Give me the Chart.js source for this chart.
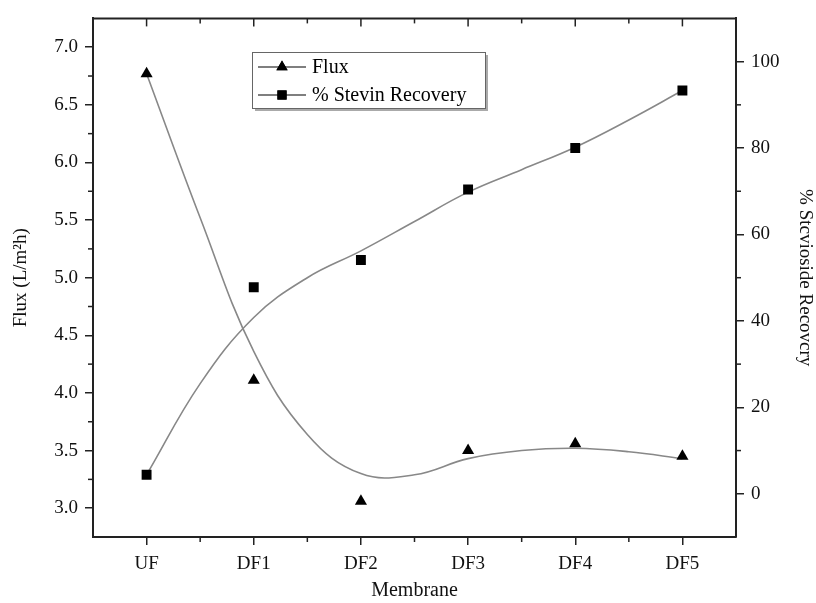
<!DOCTYPE html>
<html>
<head>
<meta charset="utf-8">
<script src="https://cdn.jsdelivr.net/npm/chart.js@4.4.1/dist/chart.umd.min.js"></script>
<style>
    html, body { margin: 0; background: #fff; }
    #wrap { width: 816px; height: 603px; }
</style>
</head>
<body>
<div id="wrap"><canvas id="chart" width="816" height="603"></canvas></div>
<script>
const membranes = ["UF", "DF1", "DF2", "DF3", "DF4", "DF5"];
const membraneIndex = [0, 1, 2, 3, 4, 5];
const fluxValues = [6.77, 4.11, 3.06, 3.50, 3.56, 3.45];
const recoveryValues = [4.4, 47.8, 54.1, 70.4, 80.0, 93.3];

// fitted curves
const fitX = [0, 0.5, 1, 1.5, 2, 2.5, 3, 3.5, 4, 4.5, 5];
const fluxFit = [6.77, 5.52, 4.36, 3.64, 3.30, 3.29, 3.43, 3.50, 3.52, 3.49, 3.43];
const recoveryFit = [4.4, 25.5, 40.8, 50.0, 56.2, 63.0, 69.8, 75.0, 80.2, 86.5, 93.3];

const fluxTicks = [3.0, 3.5, 4.0, 4.5, 5.0, 5.5, 6.0, 6.5, 7.0];
const fluxMinor = [3.25, 3.75, 4.25, 4.75, 5.25, 5.75, 6.25, 6.75];
const recoveryTicks = [0, 20, 40, 60, 80, 100];
const recoveryMinor = [10, 30, 50, 70, 90];
const xMinor = [0.5, 1.5, 2.5, 3.5, 4.5];

const pts = (xs, ys) => xs.map((x, i) => ({ x, y: ys[i] }));
const AXIS = "#222";

Chart.defaults.font.family = "'Liberation Serif', 'Times New Roman', serif";
Chart.defaults.font.size = 19;
Chart.defaults.color = "#111";

const frame = {
    id: "frame",
    afterDraw(chart) {
        const { ctx, chartArea: a, scales } = chart;
        const line = (x1, y1, x2, y2) => { ctx.beginPath(); ctx.moveTo(x1, y1); ctx.lineTo(x2, y2); ctx.stroke(); };
        ctx.save();
        ctx.strokeStyle = AXIS;
        ctx.lineWidth = 2;
        line(a.left - 1, a.top, a.right + 1, a.top);
        ctx.lineWidth = 1.5;
        membraneIndex.forEach(v => { const px = scales.x.getPixelForValue(v); line(px, a.top, px, a.top + 8); });
        xMinor.forEach(v => {
            const px = scales.x.getPixelForValue(v);
            line(px, a.bottom, px, a.bottom + 5);
            line(px, a.top, px, a.top + 5);
        });
        fluxMinor.forEach(v => { const py = scales.y.getPixelForValue(v); line(a.left - 5, py, a.left, py); });
        recoveryMinor.forEach(v => { const py = scales.y1.getPixelForValue(v); line(a.right, py, a.right + 5, py); });

        // legend box
        const bx = 252, by = 52, bw = 233, bh = 56;
        ctx.fillStyle = "#aaa";
        ctx.fillRect(bx + 3, by + 3, bw, bh);
        ctx.fillStyle = "#fff";
        ctx.fillRect(bx, by, bw, bh);
        ctx.strokeStyle = "#666";
        ctx.lineWidth = 1;
        ctx.strokeRect(bx + 0.5, by + 0.5, bw, bh);
        const rows = [["Flux", "triangle", 67], ["% Stevin Recovery", "rect", 95]];
        rows.forEach(([label, style, y]) => {
            ctx.strokeStyle = "#555";
            ctx.lineWidth = 1.3;
            line(258, y, 306, y);
            ctx.fillStyle = "#000";
            Chart.helpers.drawPoint(ctx, { pointStyle: style, radius: 6.5, borderWidth: 0 }, 282, y);
            ctx.fill();
            ctx.font = "20px 'Liberation Serif', serif";
            ctx.textBaseline = "middle";
            ctx.fillText(label, 312, y + 1);
        });
        ctx.restore();
    }
};

const setTicks = values => scale => { scale.ticks = values.map(value => ({ value })); };

new Chart(document.getElementById("chart"), {
    type: "scatter",
    data: {
        datasets: [
            { label: "Flux", data: pts(membraneIndex, fluxValues), yAxisID: "y", pointStyle: "triangle", pointRadius: 7, backgroundColor: "#000", borderColor: "#000", borderWidth: 0, order: 0 },
            { label: "% Stevin Recovery", data: pts(membraneIndex, recoveryValues), yAxisID: "y1", pointStyle: "rect", pointRadius: 7, backgroundColor: "#000", borderColor: "#000", borderWidth: 0, order: 0 },
            { label: "Flux fit", data: pts(fitX, fluxFit), yAxisID: "y", showLine: true, pointRadius: 0, borderColor: "#888", borderWidth: 1.6, tension: 0.4, order: 1 },
            { label: "Recovery fit", data: pts(fitX, recoveryFit), yAxisID: "y1", showLine: true, pointRadius: 0, borderColor: "#888", borderWidth: 1.6, tension: 0.4, order: 1 }
        ]
    },
    options: {
        responsive: false,
        animation: false,
        devicePixelRatio: 1,
        layout: { padding: { top: 15, left: 0, right: 0, bottom: 0 } },
        plugins: { legend: { display: false }, tooltip: { enabled: false } },
        scales: {
            x: {
                type: "linear", min: -0.5, max: 5.5,
                afterBuildTicks: setTicks(membraneIndex),
                afterFit: scale => { scale.height = 66; },
                ticks: { padding: 8, callback: v => membranes[v] },
                grid: { drawOnChartArea: false, tickLength: 8, color: AXIS, lineWidth: 1.5 },
                border: { color: AXIS, width: 2 },
                title: { display: true, text: "Membrane", font: { size: 20 }, padding: { top: 0, bottom: 0 } }
            },
            y: {
                position: "left", min: 2.75, max: 7.25,
                afterBuildTicks: setTicks(fluxTicks),
                afterFit: scale => { scale.width = 93; },
                ticks: { padding: 7, callback: v => v.toFixed(1) },
                grid: { drawOnChartArea: false, tickLength: 8, color: AXIS, lineWidth: 1.5 },
                border: { color: AXIS, width: 2 },
                title: { display: true, text: "Flux (L/m²h)", padding: { top: 10, bottom: 0 } }
            },
            y1: {
                position: "right", min: -10, max: 110,
                afterBuildTicks: setTicks(recoveryTicks),
                afterFit: scale => { scale.width = 80; },
                ticks: { padding: 7 },
                grid: { drawOnChartArea: false, tickLength: 8, color: AXIS, lineWidth: 1.5 },
                border: { color: AXIS, width: 2 },
                title: { display: true, text: "% Stcvioside Recovcry", padding: { top: 0, bottom: 0 } }
            }
        }
    },
    plugins: [frame]
});
</script>
</body>
</html>
